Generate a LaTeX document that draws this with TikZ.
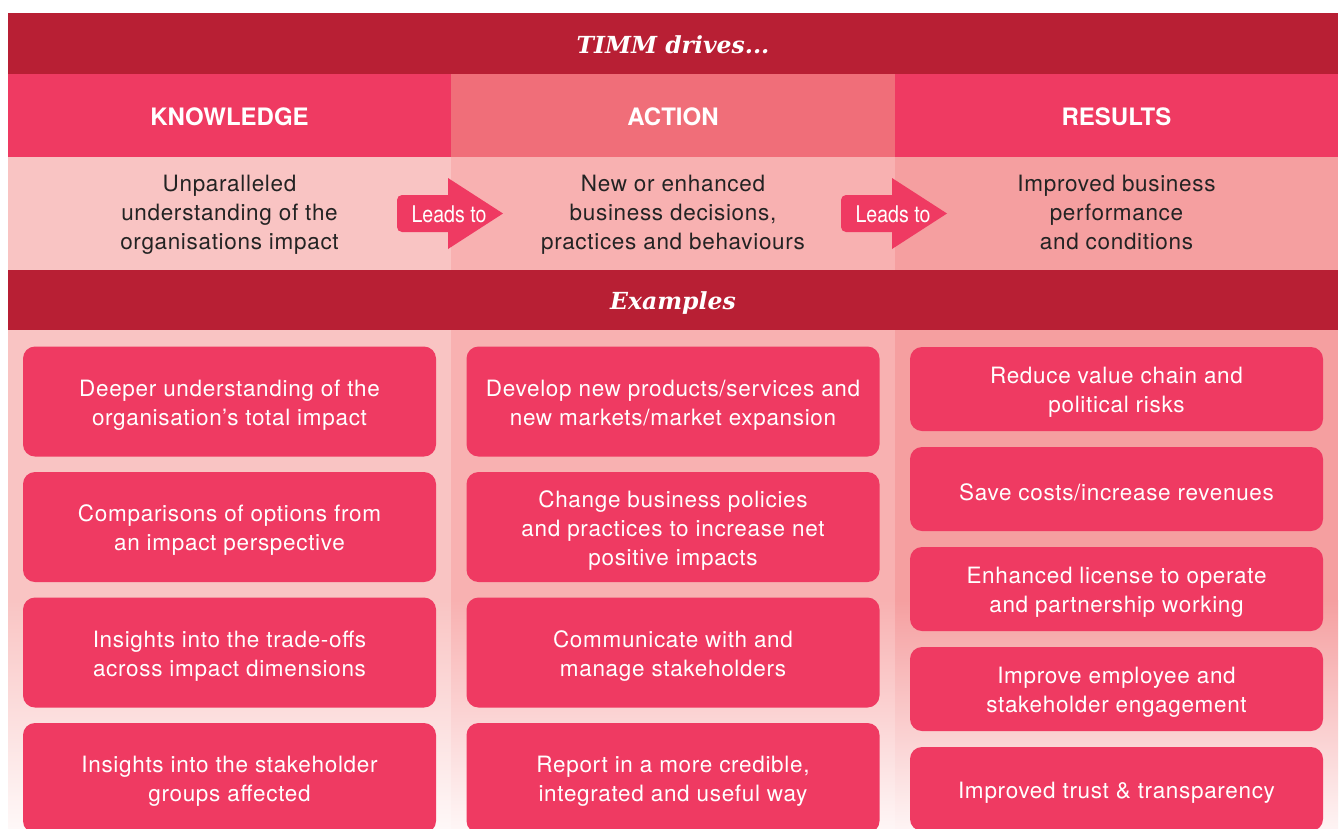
\documentclass[tikz,border=0pt]{standalone}
\usepackage{fontspec}
\usepackage{graphicx}
\setmainfont{TeX Gyre Heros}
\newfontfamily\bodyfont[LetterSpace=3]{TeX Gyre Heros}
\newfontfamily\titlefont{DejaVu Serif}
\definecolor{darkred}{RGB}{184,31,52}
\definecolor{hotpink}{RGB}{239,58,98}
\definecolor{actpink}{RGB}{240,110,121}
\definecolor{descL}{RGB}{249,196,195}
\definecolor{descM}{RGB}{248,177,177}
\definecolor{descR}{RGB}{245,159,160}
\definecolor{txtgray}{RGB}{35,35,35}
\tikzset{
  titletext/.style={text=white,font=\titlefont\bfseries\itshape\fontsize{23.5}{28}\selectfont},
  headtext/.style={text=white,font=\bfseries\fontsize{24}{28}\selectfont},
  desctext/.style={text=txtgray,align=center,font=\bodyfont\fontsize{22.5}{29}\selectfont},
  exbox/.style={fill=hotpink,rounded corners=12pt,minimum width=413pt,inner sep=0pt},
  extext/.style={text=white,align=center,font=\bodyfont\fontsize{22.5}{29}\selectfont,inner sep=0pt,yshift=-3.5pt},
  tallbox/.style={exbox,minimum height=110pt},
  shortbox/.style={exbox,minimum height=84pt},
  leadstext/.style={text=white,font=\fontsize{23}{26}\selectfont,inner sep=0pt}
}
\newcommand\exitem[4]{%
  \node[#1] (#2) at (#3) {};
  \node[extext] (#2t) at (#2.center) {#4};}
\begin{document}
\begin{tikzpicture}[x=1pt,y=-1pt]
\useasboundingbox (0,0) rectangle (1344,828);
\clip (0,0) rectangle (1344,828);
\fill[white] (0,0) rectangle (1344,828);
% top bar
\fill[darkred] (8,13) rectangle (1338,74);
\node[titletext] (title) at (673,45) {TIMM drives...};
% header row
\fill[hotpink] (8,74) rectangle (451,157);
\fill[actpink] (451,74) rectangle (895,157);
\fill[hotpink] (895,74) rectangle (1338,157);
\node[headtext] (know) at (229.5,117) {KNOWLEDGE};
\node[headtext] (act) at (673,117) {ACTION};
\node[headtext] (res) at (1116.5,117) {RESULTS};
% description row
\fill[descL] (8,157) rectangle (451,270);
\fill[descM] (451,157) rectangle (895,270);
\fill[descR] (895,157) rectangle (1338,270);
\node[desctext] (dk) at (229.5,214.5) {Unparalleled\\understanding of the\\organisations impact};
\node[desctext] (da) at (673,214.5) {New or enhanced\\business decisions,\\practices and behaviours};
\node[desctext] (dr) at (1116.5,212.5) {Improved business\\performance\\and conditions};
% leads to arrows
\foreach \xo/\nm in {451/la, 895/lb}{
  \fill[hotpink] (\xo-3,178) -- (\xo+52,213.5) -- (\xo-3,249) -- (\xo-3,232)
     [rounded corners=5pt] -- (\xo-54,232) -- (\xo-54,195) [sharp corners] -- (\xo-3,195) -- cycle;
  \node[leadstext] (\nm) at (\xo-2,214.5) {\scalebox{0.85}[1]{Leads to}};
}
% examples bar
\fill[darkred] (8,270) rectangle (1338,330);
\node[titletext] (examples) at (673,303) {Examples};
% bottom columns with fade
\fill[descL] (8,330) rectangle (451,601);
\fill[descM] (451,330) rectangle (895,601);
\fill[descR] (895,330) rectangle (1338,601);
\shade[top color=descL,bottom color=descL!12] (8,600) rectangle (451,828);
\shade[top color=descM,bottom color=descM!12] (451,600) rectangle (895,828);
\shade[top color=descR,bottom color=descR!12] (895,600) rectangle (1338,828);
% knowledge examples
\exitem{tallbox}{k1}{229.5,401.5}{Deeper understanding of the\\organisation’s total impact}
\exitem{tallbox}{k2}{229.5,527}{Comparisons of options from\\an impact perspective}
\exitem{tallbox}{k3}{229.5,652.5}{Insights into the trade-offs\\across impact dimensions}
\exitem{tallbox}{k4}{229.5,778}{Insights into the stakeholder\\groups affected}
% action examples
\exitem{tallbox}{a1}{673,401.5}{Develop new products/services and\\new markets/market expansion}
\exitem{tallbox}{a2}{673,527}{Change business policies\\and practices to increase net\\positive impacts}
\exitem{tallbox}{a3}{673,652.5}{Communicate with and\\manage stakeholders}
\exitem{tallbox}{a4}{673,778}{Report in a more credible,\\integrated and useful way}
% results examples
\exitem{shortbox}{r1}{1116.5,389}{Reduce value chain and\\political risks}
\exitem{shortbox}{r2}{1116.5,489}{Save costs/increase revenues}
\exitem{shortbox}{r3}{1116.5,589}{Enhanced license to operate\\and partnership working}
\exitem{shortbox}{r4}{1116.5,689}{Improve employee and\\stakeholder engagement}
\exitem{shortbox}{r5}{1116.5,789}{Improved trust \& transparency}
\end{tikzpicture}
\end{document}
